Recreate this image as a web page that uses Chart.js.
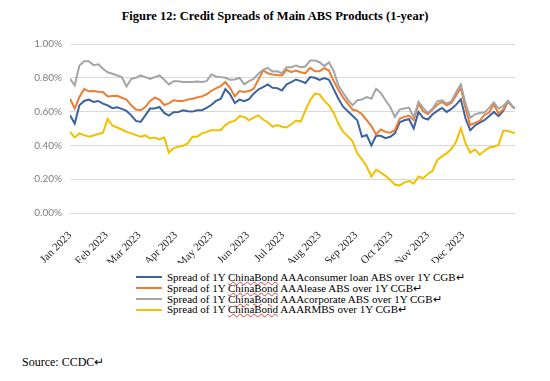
<!DOCTYPE html>
<html><head><meta charset="utf-8">
<script src="https://cdn.jsdelivr.net/npm/chart.js@4.4.1/dist/chart.umd.min.js"></script>
<style>
html,body{margin:0;padding:0;background:#fff;}
body{width:550px;height:381px;position:relative;overflow:hidden;font-family:"Liberation Serif","Times New Roman",serif;color:#000;}
#title{position:absolute;left:0;top:9px;width:550px;text-align:center;font-weight:bold;font-size:12.5px;}
#wrap{position:absolute;left:0;top:30px;width:550px;height:233px;}
#legend{position:absolute;left:136px;top:272px;font-size:11px;}
.row{display:flex;align-items:center;height:10.8px;line-height:10.8px;white-space:nowrap;}
.swatch{width:26px;height:2px;margin-right:5px;flex:none;}
.sq{text-decoration:underline wavy #e04040;text-decoration-thickness:0.6px;text-underline-offset:0px;}
#source{position:absolute;left:22px;top:355px;font-size:12px;}
</style></head>
<body>
<div id="title">Figure 12: Credit Spreads of Main ABS Products (1-year)</div>
<div id="wrap"><canvas id="c" width="550" height="233"></canvas></div>
<div id="legend"></div>
<div id="source">Source: CCDC↵</div>
<script>
const monthLabels = ['Jan 2023','Feb 2023','Mar 2023','Apr 2023','May 2023','Jun 2023','Jul 2023','Aug 2023','Sep 2023','Oct 2023','Nov 2023','Dec 2023'];
const monthStartDays = [0,31,59,90,120,151,181,212,243,273,304,334];
const yTicks = [0,0.2,0.4,0.6,0.8,1.0];
const days = [0,4,8,12,16,20,24,28,32,36,40,44,48,52,56,60,64,68,72,76,80,84,88,92,96,100,104,108,112,116,120,124,128,132,136,140,144,148,152,156,160,164,168,172,176,180,184,188,192,196,200,204,208,212,216,220,224,228,232,236,240,244,248,252,256,260,264,268,272,276,280,284,288,292,296,300,304,308,312,316,320,324,328,332,336,340,344,348,352,356,360,364,368,372,376,378];
const seriesNames = [
  'Spread of 1Y ChinaBond AAAconsumer loan ABS over 1Y CGB↵',
  'Spread of 1Y ChinaBond AAAlease ABS over 1Y CGB↵',
  'Spread of 1Y ChinaBond AAAcorporate ABS over 1Y CGB↵',
  'Spread of 1Y ChinaBond AAARMBS over 1Y CGB↵'
];
const consumerLoan = [0.578,0.529,0.637,0.663,0.671,0.657,0.663,0.647,0.637,0.620,0.625,0.616,0.604,0.578,0.545,0.539,0.578,0.618,0.618,0.627,0.592,0.576,0.596,
0.598,0.608,0.602,0.600,0.608,0.608,0.622,0.639,0.663,0.675,0.733,0.702,0.651,0.671,0.661,0.673,0.706,0.731,0.745,0.761,0.741,0.739,0.725,
0.761,0.775,0.790,0.780,0.769,0.804,0.800,0.788,0.798,0.788,0.733,0.676,0.629,0.602,0.575,0.549,0.451,0.461,0.400,0.457,0.457,0.443,0.451,
0.471,0.537,0.549,0.555,0.500,0.598,0.563,0.553,0.584,0.604,0.622,0.598,0.616,0.641,0.673,0.559,0.490,0.518,0.535,0.549,0.573,0.598,0.573,0.604,0.661,0.631,0.618];
const lease = [0.676,0.618,0.686,0.733,0.720,0.722,0.718,0.716,0.690,0.692,0.694,0.682,0.671,0.637,0.612,0.608,0.627,0.663,0.682,0.671,0.639,0.649,0.667,
0.663,0.663,0.671,0.676,0.684,0.690,0.702,0.722,0.737,0.751,0.775,0.739,0.690,0.722,0.716,0.722,0.735,0.788,0.843,0.827,0.820,0.816,0.814,
0.847,0.833,0.843,0.833,0.827,0.859,0.839,0.839,0.857,0.843,0.780,0.729,0.682,0.647,0.612,0.604,0.584,0.550,0.514,0.465,0.494,0.480,0.475,
0.490,0.557,0.569,0.575,0.549,0.647,0.602,0.584,0.612,0.641,0.657,0.637,0.651,0.696,0.741,0.618,0.520,0.533,0.545,0.580,0.594,0.643,0.588,0.612,0.661,0.627,0.618];
const corporate = [0.794,0.755,0.873,0.898,0.898,0.875,0.880,0.853,0.833,0.824,0.814,0.804,0.749,0.794,0.800,0.814,0.804,0.794,0.804,0.814,0.788,0.761,0.780,
0.780,0.775,0.775,0.775,0.778,0.775,0.780,0.820,0.808,0.804,0.800,0.788,0.790,0.800,0.761,0.780,0.794,0.824,0.847,0.859,0.837,0.839,0.827,
0.863,0.863,0.873,0.863,0.867,0.902,0.902,0.892,0.869,0.892,0.839,0.755,0.710,0.671,0.637,0.667,0.671,0.686,0.676,0.735,0.710,0.667,0.627,
0.569,0.612,0.618,0.624,0.565,0.657,0.622,0.592,0.618,0.661,0.667,0.647,0.661,0.716,0.761,0.647,0.563,0.584,0.592,0.594,0.622,0.655,0.618,0.633,0.663,0.627,0.618];
const rmbs = [0.480,0.447,0.471,0.461,0.451,0.459,0.467,0.475,0.557,0.518,0.506,0.494,0.480,0.471,0.461,0.451,0.459,0.441,0.447,0.435,0.447,0.357,0.384,
0.392,0.398,0.412,0.451,0.451,0.471,0.480,0.490,0.490,0.490,0.520,0.539,0.545,0.573,0.569,0.549,0.565,0.578,0.553,0.537,0.510,0.520,0.510,
0.506,0.525,0.547,0.541,0.608,0.667,0.706,0.702,0.663,0.637,0.592,0.529,0.480,0.455,0.424,0.353,0.318,0.275,0.216,0.255,0.239,0.220,0.196,
0.167,0.163,0.180,0.190,0.173,0.216,0.206,0.231,0.249,0.314,0.335,0.353,0.380,0.422,0.500,0.412,0.357,0.376,0.345,0.367,0.388,0.392,0.402,0.486,0.486,0.475,0.475];
const seriesValues = [consumerLoan, lease, corporate, rmbs];
const seriesColors = ['#3c62a0','#ed7d31','#a5a5a5','#f2c000'];
const drawOrder = [3,2,1,0];

const datasets = seriesValues.map((vals,i)=>({
  label: seriesNames[i],
  data: vals.map((v,j)=>({x:days[j], y:v})),
  borderColor: seriesColors[i],
  backgroundColor: seriesColors[i],
  borderWidth: 2,
  pointRadius: 0,
  tension: 0,
  fill: false,
  order: drawOrder[i]
}));

new Chart(document.getElementById('c'), {
  type: 'line',
  data: { datasets },
  options: {
    responsive: false,
    animation: false,
    layout: { padding: { top: 14, right: 35, left: 0, bottom: 0 } },
    plugins: { legend: { display: false }, tooltip: { enabled: false } },
    scales: {
      x: {
        type: 'linear', min: 0, max: 378,
        grid: { display: false }, border: { display: false },
        afterBuildTicks: s => { s.ticks = monthStartDays.map(v => ({ value: v })); },
        afterFit: s => { s.height = 50; },
        ticks: {
          autoSkip: false, minRotation: 45, maxRotation: 45, padding: 8,
          color: '#262626', font: { family: 'Liberation Serif', size: 11 },
          callback: v => { const i = monthStartDays.indexOf(v); return i >= 0 ? monthLabels[i] : ''; }
        }
      },
      y: {
        min: 0, max: 1,
        afterBuildTicks: s => { s.ticks = yTicks.map(v => ({ value: v })); },
        afterFit: s => { s.width = 70; },
        grid: { color: '#d9d9d9', drawTicks: false, lineWidth: 1 },
        border: { display: false },
        ticks: { padding: 8, color: '#7f7f7f', font: { family: 'Lato', size: 10 },
          callback: v => v.toFixed(2) + '%' }
      }
    }
  }
});

const leg = document.getElementById('legend');
seriesNames.forEach((name,i)=>{
  const row = document.createElement('div'); row.className='row';
  const sw = document.createElement('div'); sw.className='swatch'; sw.style.background=seriesColors[i];
  const tx = document.createElement('span');
  const parts = name.split('ChinaBond');
  tx.appendChild(document.createTextNode(parts[0]));
  const u = document.createElement('span'); u.className='sq'; u.textContent='ChinaBond';
  tx.appendChild(u);
  tx.appendChild(document.createTextNode(parts[1]));
  row.appendChild(sw); row.appendChild(tx); leg.appendChild(row);
});
</script>
</body></html>
